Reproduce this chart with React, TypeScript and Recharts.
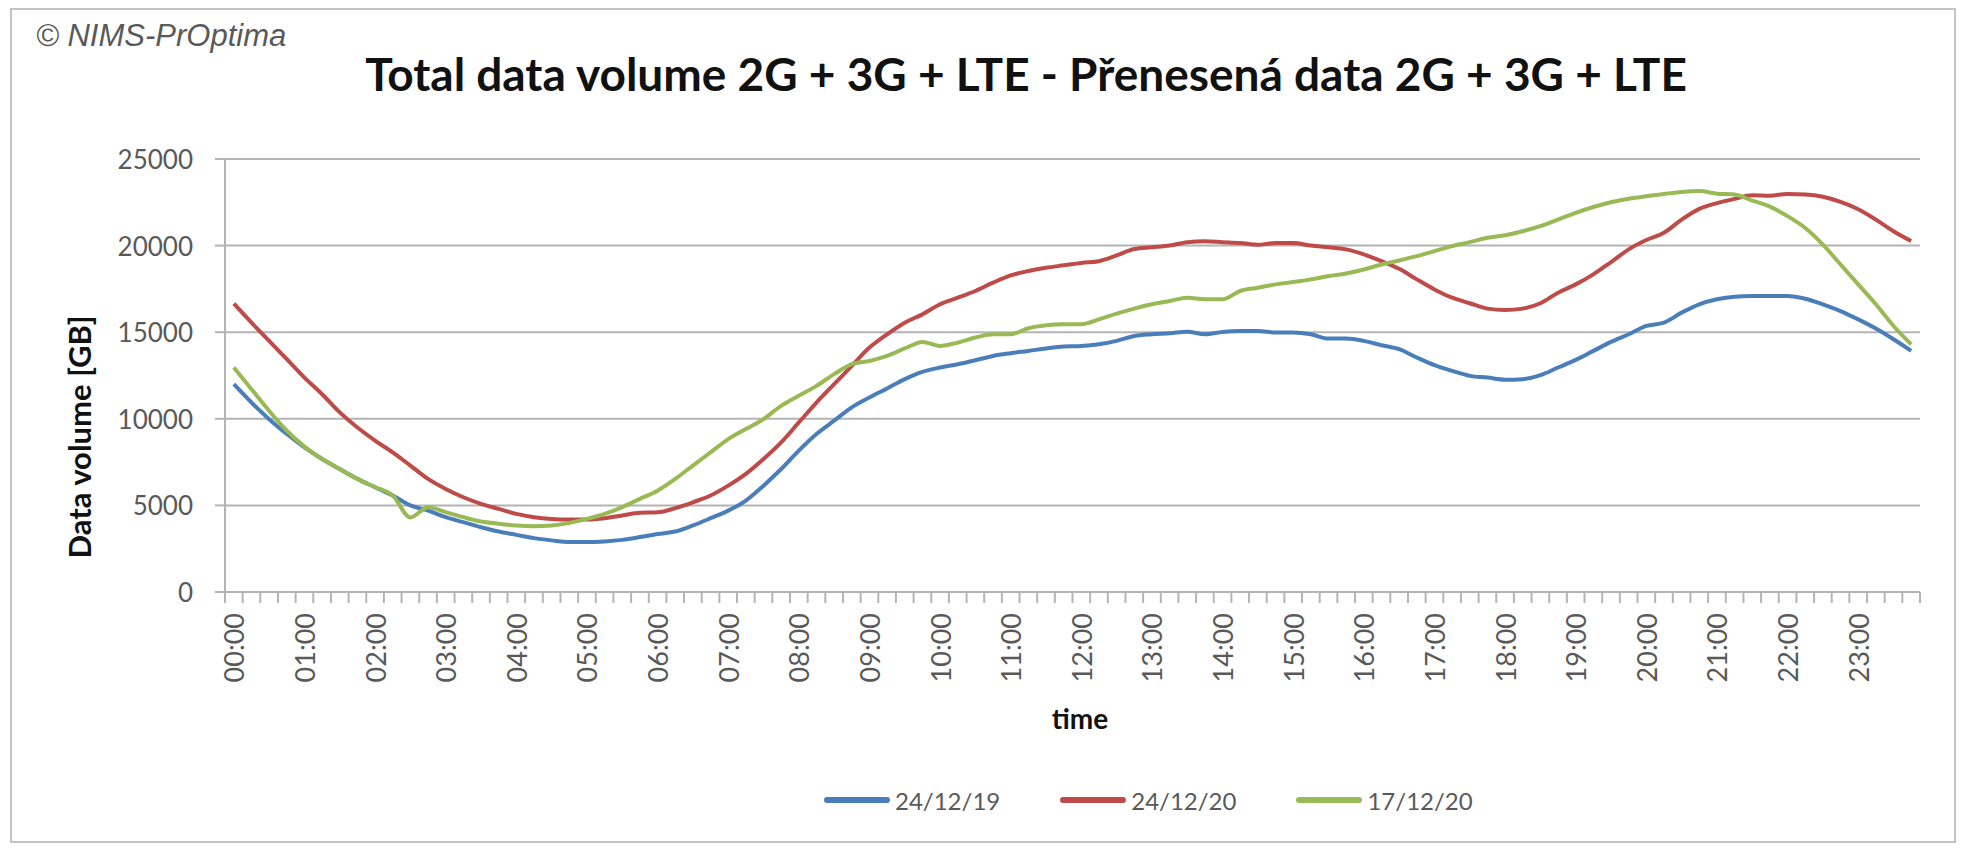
import { LineChart, Line, XAxis, YAxis, CartesianGrid, Label } from 'recharts'

// 15-minute slots, 00:00 .. 23:45
const times: string[] = []
for (let h = 0; h < 24; h++) {
  for (let m = 0; m < 60; m += 15) {
    times.push(`${String(h).padStart(2, '0')}:${String(m).padStart(2, '0')}`)
  }
}

const yTicks = [0, 5000, 10000, 15000, 20000, 25000]

const dec2019 = [
  12000, 10940, 9980, 9120, 8350, 7680, 7100, 6530, 6050, 5570, 5000, 4700,
  4320, 4030, 3740, 3490, 3300, 3110, 2980, 2880, 2880, 2920, 3010, 3170,
  3350, 3490, 3840, 4260, 4700, 5280, 6140, 7100, 8160, 9120, 9890, 10660,
  11230, 11750, 12290, 12710, 12960, 13150, 13380, 13630, 13790, 13920, 14060, 14170,
  14200, 14300, 14500, 14780, 14880, 14940, 15030, 14880, 15010, 15070, 15070, 14980,
  14980, 14880, 14630, 14630, 14500, 14250, 14020, 13540, 13100, 12770, 12480, 12380,
  12260, 12290, 12520, 12960, 13400, 13920, 14440, 14880, 15360, 15550, 16130, 16610,
  16900, 17050, 17090, 17090, 17090, 16930, 16610, 16220, 15740, 15210, 14590, 13920,
]

const dec2020 = [
  16650, 15550, 14500, 13440, 12380, 11420, 10370, 9500, 8740, 8060, 7300, 6530,
  5950, 5470, 5090, 4800, 4510, 4320, 4220, 4190, 4190, 4260, 4420, 4570,
  4600, 4840, 5180, 5570, 6140, 6820, 7680, 8640, 9790, 10940, 12000, 13060,
  14110, 14880, 15550, 16030, 16610, 16990, 17380, 17860, 18280, 18530, 18720, 18860,
  19000, 19100, 19430, 19800, 19900, 20000, 20200, 20250, 20200, 20150, 20050, 20150,
  20150, 20000, 19900, 19780, 19490, 19100, 18660, 18050, 17470, 16990, 16670, 16360,
  16280, 16360, 16670, 17280, 17760, 18340, 19050, 19780, 20320, 20740, 21500, 22120,
  22450, 22700, 22900, 22880, 22980, 22950, 22820, 22520, 22100, 21500, 20830, 20260,
]

const week2020 = [
  12960, 11710, 10460, 9310, 8390, 7680, 7100, 6530, 6050, 5570, 4300, 4900,
  4610, 4320, 4070, 3940, 3840, 3800, 3840, 3990, 4220, 4510, 4900, 5380,
  5850, 6530, 7300, 8060, 8830, 9410, 9980, 10750, 11330, 11900, 12580, 13150,
  13340, 13630, 14060, 14440, 14210, 14400, 14690, 14880, 14880, 15230, 15400, 15460,
  15460, 15740, 16070, 16360, 16610, 16800, 16990, 16900, 16900, 17380, 17570, 17760,
  17900, 18050, 18240, 18390, 18620, 18910, 19140, 19390, 19680, 19970, 20200, 20450,
  20600, 20830, 21120, 21500, 21890, 22230, 22500, 22700, 22850, 22980, 23100, 23150,
  23000, 22950, 22600, 22250, 21700, 21020, 20060, 18910, 17760, 16610, 15360, 14300,
]

const series = [
  { key: 'd191224', name: '24/12/19', color: '#4A7EBB', values: dec2019 },
  { key: 'd201224', name: '24/12/20', color: '#BE4B48', values: dec2020 },
  { key: 'd201217', name: '17/12/20', color: '#98B954', values: week2020 },
]

const data = times.map((time, i) => {
  const row: Record<string, string | number> = { time }
  series.forEach((s) => {
    row[s.key] = s.values[i]
  })
  return row
})

const FONT = 'Lato, "Open Sans", sans-serif'
const GRID = '#b4b4b4'
const PLOT_LEFT = 225
const PLOT_RIGHT = 1920
const PLOT_BOTTOM = 592
const HALF_BAND = (PLOT_RIGHT - PLOT_LEFT) / times.length / 2

function TimeTick(props: any) {
  const { x, payload, index } = props
  const idx = payload?.index ?? index
  const last = idx === times.length - 1
  return (
    <g>
      <line x1={x - HALF_BAND} y1={PLOT_BOTTOM} x2={x - HALF_BAND} y2={PLOT_BOTTOM + 11} stroke={GRID} strokeWidth={2} />
      {last && (
        <line x1={x + HALF_BAND} y1={PLOT_BOTTOM} x2={x + HALF_BAND} y2={PLOT_BOTTOM + 11} stroke={GRID} strokeWidth={2} />
      )}
      {idx % 4 === 0 && (
        <text
          x={x}
          y={PLOT_BOTTOM + 21}
          transform={`rotate(-90, ${x}, ${PLOT_BOTTOM + 21})`}
          textAnchor="end"
          dominantBaseline="central"
          fontFamily={FONT}
          fontSize={27}
          fill="#595959"
        >
          {payload.value}
        </text>
      )}
    </g>
  )
}

function VolumeTick(props: any) {
  const { y, payload } = props
  return (
    <text x={193} y={y} textAnchor="end" dominantBaseline="central" fontFamily={FONT} fontSize={26} fill="#595959">
      {payload.value}
    </text>
  )
}

export default function App() {
  return (
    <div style={{ position: 'absolute', left: 0, top: 0, width: 1978, height: 868, background: '#fff', fontFamily: FONT }}>
      <div
        style={{
          position: 'absolute',
          left: 10,
          top: 8,
          width: 1942,
          height: 831,
          border: '2px solid #c4c4c4',
        }}
      />
      <div
        style={{
          position: 'absolute',
          left: 36,
          top: 18,
          fontFamily: '"Liberation Sans", Arial, sans-serif',
          fontStyle: 'italic',
          fontSize: 31,
          color: '#595959',
          lineHeight: '36px',
          whiteSpace: 'nowrap',
        }}
      >
        © NIMS-PrOptima
      </div>
      <div
        style={{
          position: 'absolute',
          left: 0,
          width: 2052,
          top: 46,
          textAlign: 'center',
          fontWeight: 700,
          fontSize: 46,
          lineHeight: '56px',
          color: '#111',
          whiteSpace: 'nowrap',
        }}
      >
        Total data volume 2G + 3G + LTE - Přenesená data 2G + 3G + LTE
      </div>

      <LineChart
        width={1978}
        height={868}
        data={data}
        margin={{ top: 159, right: 58, left: 0, bottom: 0 }}
        style={{ position: 'absolute', left: 0, top: 0 }}
      >
        <CartesianGrid vertical={false} stroke={GRID} strokeWidth={2} />
        <XAxis
          dataKey="time"
          height={276}
          interval={0}
          tickLine={false}
          axisLine={{ stroke: GRID, strokeWidth: 2 }}
          padding={{ left: HALF_BAND, right: HALF_BAND }}
          tick={<TimeTick />}
        >
          <Label
            content={() => (
              <text x={1080} y={718} textAnchor="middle" dominantBaseline="central" fontFamily={FONT} fontWeight={700} fontSize={28} fill="#111">
                time
              </text>
            )}
          />
        </XAxis>
        <YAxis
          width={225}
          domain={[0, 25000]}
          ticks={yTicks}
          interval={0}
          tickSize={10}
          tickLine={{ stroke: GRID, strokeWidth: 2 }}
          axisLine={{ stroke: GRID, strokeWidth: 2 }}
          tick={<VolumeTick />}
        >
          <Label
            content={() => (
              <text
                x={79}
                y={437}
                transform="rotate(-90, 79, 437)"
                textAnchor="middle"
                dominantBaseline="central"
                fontFamily={FONT}
                fontWeight={700}
                fontSize={31}
                fill="#111"
              >
                Data volume [GB]
              </text>
            )}
          />
        </YAxis>
        {series.map((s) => (
          <Line
            key={s.key}
            type="monotone"
            dataKey={s.key}
            name={s.name}
            stroke={s.color}
            strokeWidth={4}
            dot={false}
            activeDot={false}
            isAnimationActive={false}
          />
        ))}
      </LineChart>

      {/* Legend */}
      <div style={{ position: 'absolute', left: 824, top: 782, display: 'flex', alignItems: 'center', height: 36 }}>
        {series.map((s, i) => (
          <div key={s.key} style={{ display: 'flex', alignItems: 'center', marginLeft: i === 0 ? 0 : 60 }}>
            <span style={{ width: 66, height: 6, borderRadius: 3, background: s.color, display: 'inline-block' }} />
            <span style={{ marginLeft: 5, fontSize: 24, color: '#595959', whiteSpace: 'nowrap' }}>{s.name}</span>
          </div>
        ))}
      </div>
    </div>
  )
}
